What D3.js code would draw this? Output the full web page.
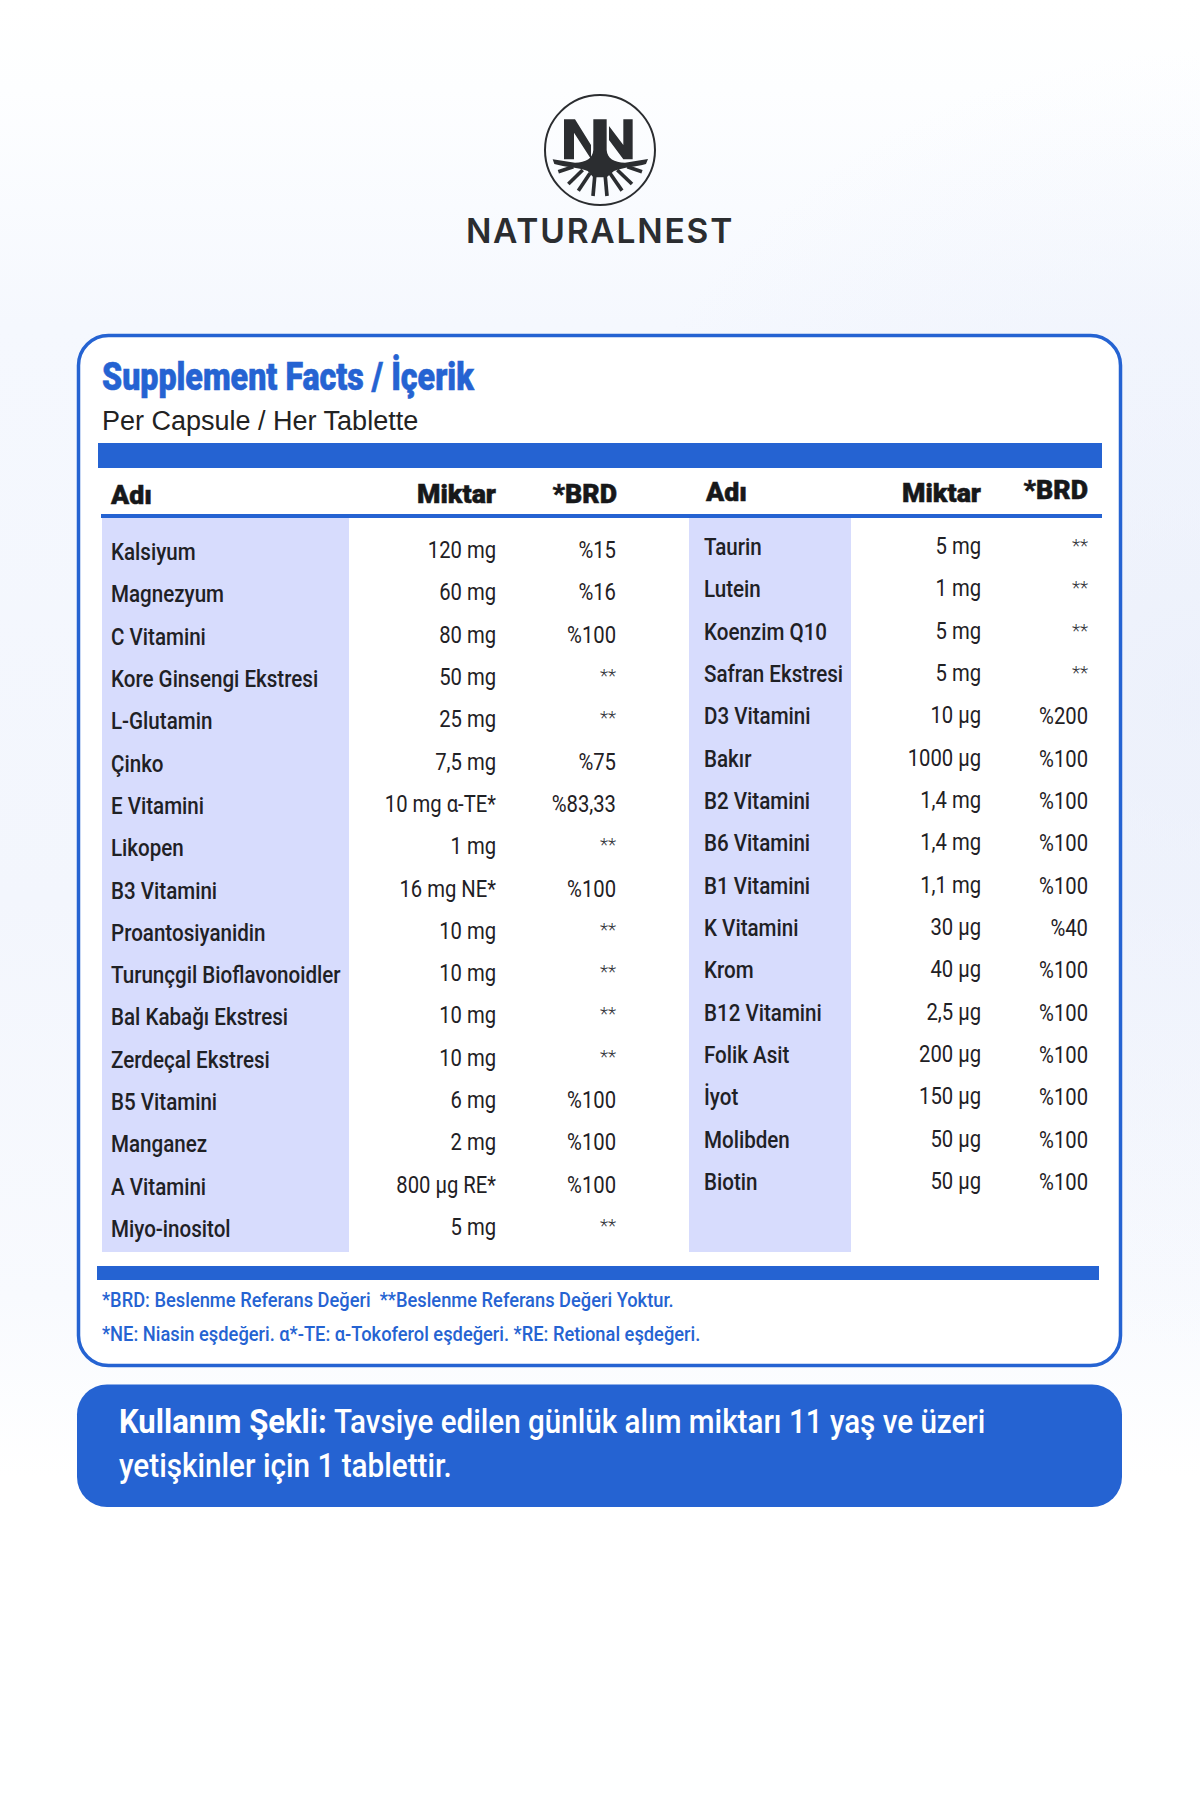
<!DOCTYPE html>
<html>
<head>
<meta charset="utf-8">
<title>Supplement Facts</title>
<script src="https://d3js.org/d3.v7.min.js"></script>
<style>
  html, body { margin: 0; padding: 0; background: #fff; }
  svg { display: block; }
</style>
</head>
<body>
<div id="chart"></div>
<script>
var leftNames = ["Kalsiyum", "Magnezyum", "C Vitamini", "Kore Ginsengi Ekstresi", "L-Glutamin", "Çinko", "E Vitamini", "Likopen", "B3 Vitamini", "Proantosiyanidin", "Turunçgil Bioflavonoidler", "Bal Kabağı Ekstresi", "Zerdeçal Ekstresi", "B5 Vitamini", "Manganez", "A Vitamini", "Miyo-inositol"];
var leftAmounts = ["120 mg", "60 mg", "80 mg", "50 mg", "25 mg", "7,5 mg", "10 mg α-TE*", "1 mg", "16 mg NE*", "10 mg", "10 mg", "10 mg", "10 mg", "6 mg", "2 mg", "800 µg RE*", "5 mg"];
var leftBrd = ["%15", "%16", "%100", "**", "**", "%75", "%83,33", "**", "%100", "**", "**", "**", "**", "%100", "%100", "%100", "**"];

var rightNames = ["Taurin", "Lutein", "Koenzim Q10", "Safran Ekstresi", "D3 Vitamini", "Bakır", "B2 Vitamini", "B6 Vitamini", "B1 Vitamini", "K Vitamini", "Krom", "B12 Vitamini", "Folik Asit", "İyot", "Molibden", "Biotin"];
var rightAmounts = ["5 mg", "1 mg", "5 mg", "5 mg", "10 µg", "1000 µg", "1,4 mg", "1,4 mg", "1,1 mg", "30 µg", "40 µg", "2,5 µg", "200 µg", "150 µg", "50 µg", "50 µg"];
var rightBrd = ["**", "**", "**", "**", "%200", "%100", "%100", "%100", "%100", "%40", "%100", "%100", "%100", "%100", "%100", "%100"];

var BLUE = "#2563d2", BAND = "#d7dcfd", INK = "#1f2125";
var FONT = "Roboto, Lato, sans-serif";

var svg = d3.select("#chart").append("svg").attr("width", 1200).attr("height", 1800);
var defs = svg.append("defs");

// pale wash behind everything
var bg = defs.append("linearGradient").attr("id", "bg").attr("x1", 0).attr("y1", 0).attr("x2", 0).attr("y2", 1);
[[0, "#ffffff"], [0.05, "#fdfeff"], [0.18, "#f5f8fe"], [0.5, "#f3f6fd"], [0.72, "#f8fafe"], [0.82, "#ffffff"], [1, "#feffff"]].forEach(function (s) {
  bg.append("stop").attr("offset", s[0]).attr("stop-color", s[1]);
});
svg.append("rect").attr("width", 1200).attr("height", 1800).attr("fill", "url(#bg)");

var glow = defs.append("radialGradient").attr("id", "glow");
glow.append("stop").attr("offset", 0).attr("stop-color", "#e8edfa").attr("stop-opacity", 0.6);
glow.append("stop").attr("offset", 1).attr("stop-color", "#e8edfa").attr("stop-opacity", 0);
svg.append("circle").attr("cx", 1200).attr("cy", 700).attr("r", 650).attr("fill", "url(#glow)");

// text with a horizontal squeeze, the original face is narrower than anything installed
function label(g, str, x, y, o) {
  return g.append("text")
    .attr("transform", "translate(" + x + "," + y + ") scale(" + (o.sx || 1) + ",1)")
    .attr("text-anchor", o.anchor || "start")
    .style("font-family", o.family || FONT)
    .style("font-size", o.size + "px")
    .style("font-weight", o.weight || 400)
    .style("letter-spacing", (o.spacing || 0) + "px")
    .attr("fill", o.fill || INK)
    .attr("stroke", o.stroke ? o.fill : null)
    .attr("stroke-width", o.stroke || null)
    .text(str);
}

/* logo */
var logo = svg.append("g").attr("transform", "translate(540,90) scale(0.3333)").attr("fill", "#2b2d30");
logo.append("circle").attr("cx", 180).attr("cy", 180).attr("r", 165).attr("fill", "none").attr("stroke", "#2b2d30").attr("stroke-width", 6);
logo.append("path").attr("d", "M72,88H105L153,165V207L102,128V208H72Z");
logo.append("path").attr("d", "M250,88H278V208H250L207,150V108L250,165Z");
logo.append("path").attr("d", "M160,88H200V180C202,205 222,218 255,218L324,207L318,222C290,230 250,232 222,243L200,262H160L143,243C115,232 75,232 43,222L38,208L105,218C138,218 158,205 160,180Z");
[[55, 245, 100, 230], [85, 282, 128, 240], [115, 302, 150, 250], [159, 318, 165, 250], [201, 318, 195, 250], [306, 245, 262, 230], [276, 282, 232, 240], [246, 302, 210, 250]].forEach(function (r) {
  logo.append("line").attr("x1", r[0]).attr("y1", r[1]).attr("x2", r[2]).attr("y2", r[3]).attr("stroke", "#2b2d30").attr("stroke-width", 11);
});
label(svg, "NATURALNEST", 600, 243, {anchor: "middle", size: 33.5, weight: 600, fill: "#2b2d30", spacing: 1.8, family: "Inter, sans-serif"});

/* card */
svg.append("rect").attr("x", 78.5).attr("y", 335.5).attr("width", 1042).attr("height", 1030)
  .attr("rx", 30).attr("fill", "#fff").attr("stroke", BLUE).attr("stroke-width", 3.5);

label(svg, "Supplement Facts / İçerik", 102, 390, {size: 39, weight: 900, fill: BLUE, sx: 0.825, stroke: 0.6});
label(svg, "Per Capsule / Her Tablette", 102, 430, {size: 27, fill: "#222", family: "'Liberation Sans', sans-serif"});

svg.append("rect").attr("x", 98).attr("y", 443).attr("width", 1004).attr("height", 25).attr("fill", BLUE);
svg.append("rect").attr("x", 101).attr("y", 514).attr("width", 1001).attr("height", 4).attr("fill", BLUE);
svg.append("rect").attr("x", 102).attr("y", 518).attr("width", 247).attr("height", 734).attr("fill", BAND);
svg.append("rect").attr("x", 689).attr("y", 518).attr("width", 162).attr("height", 734).attr("fill", BAND);
svg.append("rect").attr("x", 97).attr("y", 1266).attr("width", 1002).attr("height", 14).attr("fill", BLUE);

var headStyle = {size: 25, weight: 900, fill: "#17181a", sx: 1.07, stroke: 0.5};
function head(str, x, y, anchor) {
  label(svg, str, x, y, Object.assign({anchor: anchor}, headStyle));
}
head("Adı", 111, 504, "start");
head("Miktar", 496, 503, "end");
head("*BRD", 617, 503, "end");
head("Adı", 706, 501, "start");
head("Miktar", 981, 502, "end");
head("*BRD", 1088, 499, "end");

var nameStyle = {size: 23, weight: 500, sx: 0.895, fill: INK};
var valueStyle = {size: 23, weight: 400, sx: 0.88, fill: INK, anchor: "end"};
var starStyle = {size: 19, weight: 300, fill: "#33353a", anchor: "end"};

function column(names, amounts, brd, yRange, xName, xAmount, xBrd, dyAmount, dyBrd) {
  var y = d3.scalePoint().domain(d3.range(names.length)).range(yRange);
  var g = svg.append("g");
  names.forEach(function (n, i) {
    label(g, n, xName, y(i), nameStyle);
    label(g, amounts[i], xAmount, y(i) + dyAmount, valueStyle);
    if (brd[i] === "**") {
      label(g, brd[i], xBrd, y(i) + dyBrd - 3, starStyle);
    } else {
      label(g, brd[i], xBrd, y(i) + dyBrd, valueStyle);
    }
  });
}
column(leftNames, leftAmounts, leftBrd, [560, 1237], 111, 496, 616, -2, -2);
column(rightNames, rightAmounts, rightBrd, [555, 1190], 704, 981, 1088, -1, 0);

var noteStyle = {size: 20, weight: 500, fill: BLUE, sx: 0.915};
label(svg, "*BRD: Beslenme Referans Değeri  **Beslenme Referans Değeri Yoktur.", 102, 1307, noteStyle).style("white-space", "pre");
label(svg, "*NE: Niasin eşdeğeri. α*-TE: α-Tokoferol eşdeğeri. *RE: Retional eşdeğeri.", 102, 1341, noteStyle);

/* usage box */
svg.append("rect").attr("x", 77).attr("y", 1384.5).attr("width", 1045).attr("height", 122.5).attr("rx", 30).attr("fill", BLUE);
label(svg, "Kullanım Şekli:", 119, 1433, {size: 33, weight: 700, fill: "#fff", sx: 0.94});
label(svg, "Tavsiye edilen günlük alım miktarı 11 yaş ve üzeri", 334, 1433, {size: 33, weight: 500, fill: "#fff", sx: 0.897});
label(svg, "yetişkinler için 1 tablettir.", 119, 1477, {size: 33, weight: 500, fill: "#fff", sx: 0.9});
</script>
</body>
</html>
